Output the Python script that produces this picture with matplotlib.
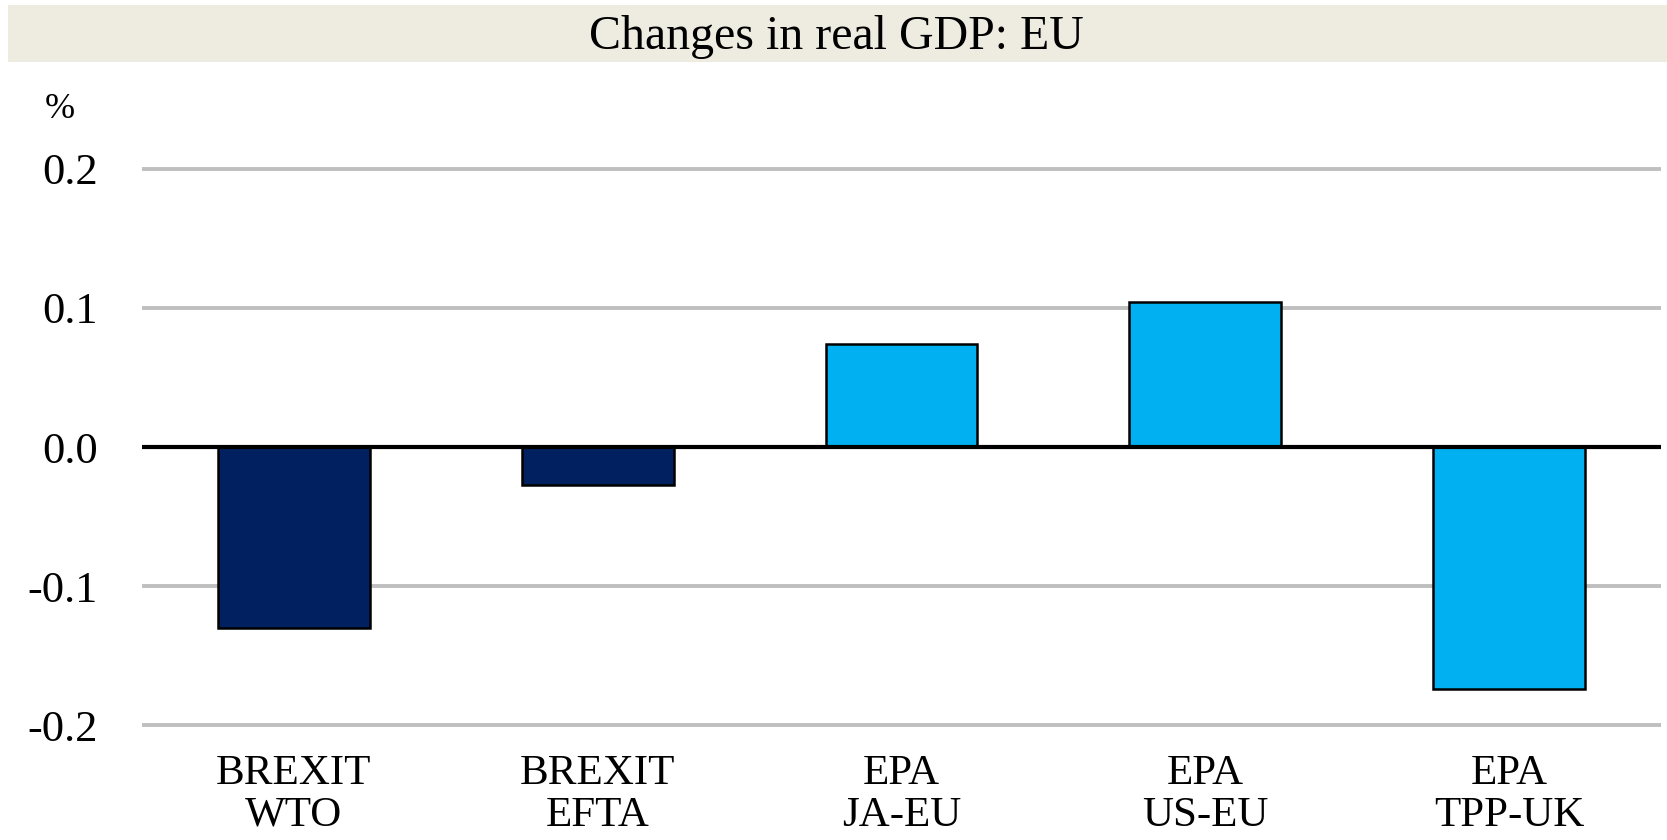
import matplotlib
matplotlib.use("Agg")
import numpy as np
from matplotlib import pyplot as plt, rcParams
from matplotlib.patches import Rectangle

categories = ["BREXIT\nWTO", "BREXIT\nEFTA", "EPA\nJA-EU", "EPA\nUS-EU", "EPA\nTPP-UK"]
values = [-0.130, -0.027, 0.074, 0.104, -0.174]
bar_colors = ["#002060", "#002060", "#00B0F0", "#00B0F0", "#00B0F0"]
yticks = [-0.2, -0.1, 0.0, 0.1, 0.2]
title = "Changes in real GDP: EU"

rcParams.update({
    'font.family': ['Liberation Serif', 'DejaVu Serif'],
    'font.size': 32,
})

fig = plt.figure(figsize=(16.67, 8.4), dpi=100)
ax = fig.add_axes([0.0852, 0.1286, 0.9112, 0.6785])

x = np.arange(len(categories))
ax.set_xlim(-0.5, len(categories) - 0.5)
ax.set_ylim(-0.205, 0.205)
for t in yticks:
    if t != 0:
        ax.axhline(t, color="#BFBFBF", lw=2.8, zorder=0)
ax.bar(x, values, 0.5, color=bar_colors, edgecolor="black", linewidth=1.8, zorder=2)
ax.axhline(0, color="black", lw=3.0, zorder=3)

ax.set_yticks(yticks)
ax.set_yticklabels(["{:.1f}".format(t) for t in yticks])
ax.set_xticks(x)
ax.set_xticklabels(categories, linespacing=1.12, fontsize=31)
ax.tick_params(axis='both', length=0)
ax.tick_params(axis='y', pad=32)
ax.tick_params(axis='x', pad=16)
for s in ax.spines.values():
    s.set_visible(False)

# title band
fig.patches.append(Rectangle((8/1667, 1 - 62/840), 1 - 8/1667, 57/840,
                             transform=fig.transFigure, facecolor="#EEEBE0",
                             edgecolor="none", zorder=0))
fig.text(836/1667, 1 - 37/840, title, ha="center", va="center", fontsize=34.5)
fig.text(45/1667, 1 - 109/840, "%", ha="left", va="center", fontsize=26)

fig.savefig("out.png", dpi=100)
